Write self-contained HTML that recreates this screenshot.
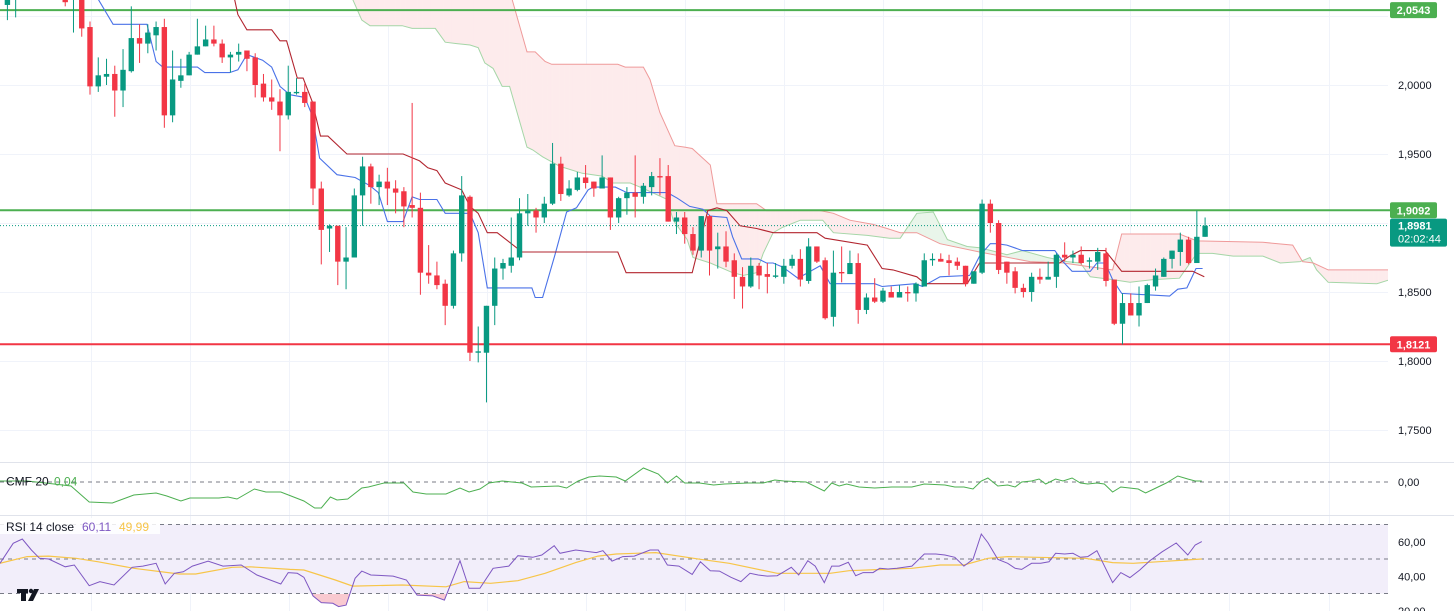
<!DOCTYPE html>
<html><head><meta charset="utf-8"><style>
html,body{margin:0;padding:0;background:#fff;}
svg{display:block;font-family:"Liberation Sans",sans-serif;}
</style></head><body>
<svg id="c" width="1454" height="611" viewBox="0 0 1454 611" xmlns="http://www.w3.org/2000/svg">
<defs>
<clipPath id="cpMain"><rect x="0" y="0" width="1388" height="462"/></clipPath>
<clipPath id="cpCmf"><rect x="0" y="463" width="1388" height="52"/></clipPath>
<clipPath id="cpRsi"><rect x="0" y="516" width="1388" height="95"/></clipPath>
<clipPath id="cpOS"><rect x="0" y="594" width="1388" height="17"/></clipPath>
</defs>
<rect x="0" y="0" width="1454" height="611" fill="#fff"/>
<g id="grid"></g>
<g id="cloud" clip-path="url(#cpMain)"></g>
<g id="levels"></g>
<g id="lines" clip-path="url(#cpMain)"></g>
<g id="candles" clip-path="url(#cpMain)"></g>
<line x1="0" y1="462.5" x2="1454" y2="462.5" stroke="#e0e3eb"/>
<line x1="0" y1="515.5" x2="1454" y2="515.5" stroke="#e0e3eb"/>
<g id="cmf"></g>
<g id="rsi"></g>
<g id="axis"></g>
<g>
<text x="6" y="485.5" font-size="12" fill="#131722">CMF 20</text>
<text x="54" y="485.5" font-size="12" fill="#4caf50">0,04</text>
</g>
<g>
<rect x="0" y="518" width="160" height="16" fill="#fff" fill-opacity="0.85"/>
<text x="6" y="531" font-size="12" fill="#131722">RSI 14 close</text>
<text x="82" y="531" font-size="12" fill="#7e57c2">60,11</text>
<text x="119" y="531" font-size="12" fill="#f7c548">49,99</text>
</g>
<g>
<rect x="17" y="589" width="11" height="4" fill="#131722"/>
<rect x="21" y="589" width="5" height="12" fill="#131722"/>
<circle cx="31" cy="591" r="2.2" fill="#131722"/>
<polygon points="34,589 39,589 33,601 28,601" fill="#131722"/>
</g>
</svg>
<script>
// ---------- data ----------
const opens=[2.058,2.062,2.091,2.080,2.094,2.083,2.069,2.069,2.062,2.080,
2.042,1.999,2.006,2.008,1.996,2.010,2.034,2.030,2.036,2.042,
1.978,2.003,2.007,2.022,2.028,2.033,2.030,2.020,2.022,2.025,
2.020,2.001,1.991,1.988,1.978,1.994,1.995,1.988,1.925,1.896,
1.898,1.872,1.875,1.920,1.941,1.926,1.930,1.925,1.923,1.913,
1.911,1.864,1.862,1.856,1.840,1.878,1.919,1.806,1.806,1.840,
1.867,1.869,1.875,1.907,1.909,1.904,1.914,1.943,1.920,1.924,
1.933,1.930,1.925,1.933,1.904,1.918,1.922,1.919,1.926,1.934,
1.934,1.901,1.904,1.892,1.880,1.905,1.881,1.883,1.873,1.861,
1.854,1.869,1.863,1.861,1.861,1.869,1.874,1.858,1.883,1.873,
1.832,1.8645,1.863,1.871,1.837,1.846,1.843,1.850,1.846,1.850,
1.849,1.854,1.873,1.874,1.873,1.872,1.869,1.856,1.864,1.914,
1.900,1.872,1.865,1.853,1.850,1.861,1.859,1.861,1.877,1.875,
1.877,1.872,1.872,1.878,1.859,1.827,1.842,1.833,1.842,1.854,
1.861,1.874,1.879,1.888,1.871,1.890];
const highs=[2.080,2.076,2.098,2.101,2.101,2.087,2.080,2.072,2.080,2.083,
2.046,2.020,2.019,2.014,2.026,2.057,2.044,2.044,2.046,2.048,
2.025,2.019,2.024,2.048,2.043,2.043,2.033,2.024,2.030,2.025,
2.023,2.008,2.004,1.997,2.014,2.005,2.001,1.988,1.930,1.899,
1.898,1.897,1.925,1.948,1.943,1.935,1.940,1.931,1.926,1.987,
1.922,1.884,1.872,1.859,1.880,1.934,1.920,1.825,1.840,1.875,
1.874,1.904,1.918,1.921,1.911,1.919,1.958,1.948,1.931,1.937,
1.942,1.930,1.949,1.933,1.919,1.926,1.949,1.929,1.937,1.947,
1.942,1.908,1.908,1.897,1.905,1.906,1.893,1.894,1.878,1.868,
1.875,1.871,1.871,1.871,1.874,1.877,1.881,1.889,1.883,1.875,
1.880,1.883,1.880,1.878,1.849,1.860,1.853,1.854,1.855,1.854,
1.857,1.878,1.878,1.878,1.877,1.875,1.869,1.865,1.917,1.917,
1.902,1.872,1.868,1.856,1.864,1.867,1.872,1.878,1.886,1.880,
1.883,1.875,1.882,1.882,1.859,1.849,1.849,1.854,1.856,1.867,
1.875,1.880,1.893,1.890,1.909,1.904];
const lows=[2.047,2.049,2.072,2.076,2.076,2.069,2.065,2.057,2.038,2.035,
1.993,1.995,2.000,1.977,1.984,2.009,2.016,2.023,2.025,1.969,
1.973,1.998,2.007,2.022,2.028,2.028,2.016,2.009,2.017,2.010,
1.991,1.988,1.982,1.952,1.975,1.993,1.984,1.913,1.870,1.879,
1.855,1.852,1.875,1.898,1.914,1.913,1.913,1.907,1.897,1.904,
1.848,1.856,1.852,1.826,1.838,1.872,1.800,1.799,1.770,1.826,
1.859,1.864,1.873,1.898,1.893,1.900,1.913,1.916,1.919,1.923,
1.925,1.919,1.925,1.895,1.900,1.906,1.904,1.914,1.920,1.920,
1.901,1.892,1.885,1.877,1.875,1.862,1.867,1.868,1.845,1.838,
1.853,1.852,1.849,1.860,1.856,1.867,1.854,1.856,1.871,1.830,
1.825,1.857,1.863,1.827,1.834,1.842,1.842,1.846,1.846,1.843,
1.843,1.854,1.869,1.872,1.862,1.866,1.854,1.856,1.863,1.893,
1.863,1.856,1.849,1.846,1.843,1.856,1.859,1.853,1.872,1.871,
1.870,1.867,1.866,1.854,1.826,1.812,1.833,1.825,1.842,1.851,
1.861,1.867,1.869,1.870,1.871,1.890];
const closes=[2.076,2.072,2.080,2.094,2.083,2.072,2.076,2.060,2.076,2.041,
1.999,2.007,2.008,1.996,2.011,2.034,2.030,2.038,2.042,1.978,
2.004,2.007,2.022,2.028,2.033,2.030,2.020,2.022,2.024,2.019,
2.000,1.991,1.988,1.978,1.995,1.995,1.987,1.925,1.895,1.898,
1.872,1.875,1.920,1.941,1.926,1.930,1.925,1.922,1.912,1.911,
1.864,1.862,1.855,1.840,1.878,1.920,1.806,1.807,1.840,1.867,
1.871,1.875,1.907,1.909,1.904,1.914,1.943,1.921,1.925,1.933,
1.929,1.925,1.933,1.904,1.918,1.922,1.919,1.927,1.934,1.933,
1.901,1.904,1.892,1.880,1.905,1.880,1.883,1.872,1.861,1.854,
1.869,1.862,1.861,1.862,1.869,1.874,1.859,1.883,1.872,1.831,
1.864,1.8635,1.871,1.837,1.846,1.843,1.851,1.846,1.850,1.849,
1.856,1.873,1.874,1.872,1.871,1.869,1.856,1.865,1.914,1.900,
1.866,1.864,1.853,1.850,1.861,1.859,1.861,1.877,1.875,1.877,
1.871,1.873,1.879,1.858,1.827,1.842,1.833,1.842,1.855,1.862,
1.874,1.880,1.888,1.871,1.890,1.898];
// [candle index, price]
const tenkan=[[11.0,2.062],[12.8,2.044],[16.9,2.044],[18.0,2.017],[18.8,2.013],[23.0,2.013],[23.9,2.009],[26.9,2.009],[27.9,2.011],[29.0,2.022],[30.9,2.018],[32.0,2.013],[33.0,1.999],[34.2,1.993],[36.0,1.991],[36.9,1.978],[37.8,1.947],[39.9,1.935],[42.1,1.933],[43.9,1.927],[44.9,1.922],[46.0,1.901],[47.9,1.901],[49.0,1.919],[49.9,1.917],[52.0,1.917],[53.0,1.907],[56.0,1.907],[57.0,1.893],[58.1,1.853],[63.5,1.853],[63.9,1.846],[64.8,1.846],[66.3,1.877],[67.7,1.908],[68.9,1.911],[70.3,1.924],[70.9,1.926],[73.6,1.926],[75.0,1.922],[79.9,1.922],[81.1,1.918],[82.6,1.912],[84.2,1.910],[85.1,1.905],[87.1,1.904],[87.8,1.890],[88.9,1.874],[90.9,1.874],[91.9,1.871],[92.7,1.871],[93.9,1.868],[95.7,1.860],[96.6,1.863],[98.4,1.869],[99.6,1.856],[105.0,1.856],[105.9,1.854],[109.9,1.856],[110.8,1.854],[112.9,1.861],[116.5,1.862],[117.7,1.876],[119.0,1.885],[119.8,1.885],[121.0,1.884],[122.9,1.880],[126.8,1.880],[127.8,1.872],[128.9,1.865],[131.1,1.865],[131.9,1.871],[132.9,1.871],[133.8,1.859],[134.9,1.849],[140.7,1.847],[141.7,1.852],[142.8,1.853],[143.9,1.867],[144.7,1.867]];
const kijun=[[27.5,2.062],[27.9,2.051],[29.0,2.040],[32.0,2.040],[33.0,2.032],[33.8,2.032],[35.1,2.005],[35.8,2.005],[36.9,1.988],[37.9,1.963],[38.8,1.963],[41.1,1.950],[47.9,1.950],[49.9,1.945],[50.9,1.940],[52.0,1.938],[53.0,1.929],[55.0,1.924],[56.0,1.912],[57.0,1.907],[58.1,1.893],[59.3,1.893],[60.8,1.886],[62.3,1.879],[73.9,1.879],[74.9,1.864],[82.9,1.864],[84.8,1.909],[85.9,1.911],[87.1,1.909],[88.7,1.898],[90.7,1.896],[92.7,1.893],[98.0,1.893],[99.0,1.889],[104.1,1.884],[105.9,1.867],[107.2,1.866],[110.1,1.861],[111.1,1.856],[116.2,1.856],[117.7,1.871],[127.4,1.871],[128.6,1.876],[129.9,1.880],[132.9,1.880],[134.9,1.865],[143.5,1.865],[144.9,1.861]];
const spanA=[[36.6,2.065],[41.8,2.062],[42.9,2.047],[43.9,2.043],[47.8,2.043],[49.0,2.041],[51.8,2.041],[53.0,2.031],[54.4,2.030],[56.0,2.029],[57.0,2.027],[57.8,2.016],[58.8,2.012],[59.9,1.999],[60.8,1.999],[62.9,1.955],[63.6,1.953],[64.8,1.948],[66.9,1.941],[69.6,1.936],[72.0,1.934],[73.3,1.929],[75.4,1.929],[77.0,1.925],[79.9,1.917],[80.6,1.902],[82.3,1.888],[83.0,1.875],[85.1,1.871],[87.8,1.864],[89.1,1.862],[90.7,1.864],[91.5,1.878],[92.7,1.893],[93.9,1.897],[96.0,1.902],[98.7,1.902],[100.0,1.893],[104.1,1.891],[106.8,1.889],[108.1,1.889],[110.1,1.907],[112.1,1.908],[113.8,1.888],[116.2,1.883],[117.7,1.882],[119.8,1.879],[121.0,1.877],[122.9,1.880],[125.9,1.875],[128.3,1.872],[129.9,1.871],[131.1,1.861],[133.8,1.859],[135.9,1.857],[138.7,1.859],[141.9,1.860],[144.0,1.878],[145.9,1.878],[148.4,1.876],[152.0,1.876],[154.1,1.871],[156.5,1.872],[157.7,1.875],[158.5,1.866],[159.9,1.857],[165.8,1.856],[167.4,1.859]];
const spanB=[[36.6,2.105],[60.2,2.069],[61.1,2.062],[62.9,2.024],[63.9,2.024],[65.1,2.017],[65.9,2.015],[73.9,2.015],[74.8,2.013],[77.0,2.013],[77.8,2.004],[79.0,1.980],[80.8,1.956],[82.0,1.955],[82.9,1.954],[85.1,1.942],[85.9,1.914],[90.7,1.914],[91.9,1.909],[98.4,1.909],[100.0,1.907],[102.0,1.902],[104.8,1.899],[106.5,1.896],[108.1,1.893],[110.1,1.893],[112.9,1.885],[117.7,1.879],[123.8,1.872],[127.8,1.871],[133.8,1.866],[134.9,1.892],[141.9,1.892],[144.0,1.887],[152.0,1.886],[155.6,1.884],[156.8,1.872],[158.1,1.871],[159.9,1.866],[167.4,1.866]];
const cmf=[[-0.9,0.02],[2.4,0.02],[4.6,-0.02],[7.7,-0.08],[9.9,-0.40],[12.7,-0.42],[15.3,-0.26],[18.0,-0.22],[19.3,-0.28],[21.0,-0.38],[22.1,-0.32],[25.6,-0.32],[26.7,-0.30],[27.8,-0.34],[29.9,-0.14],[31.3,-0.20],[33.1,-0.20],[35.9,-0.38],[37.2,-0.52],[38.0,-0.52],[39.1,-0.30],[39.9,-0.36],[41.2,-0.34],[42.9,-0.12],[43.7,-0.10],[45.6,-0.02],[48.0,-0.02],[49.1,-0.20],[50.7,-0.24],[53.1,-0.24],[54.8,-0.12],[55.9,-0.20],[57.2,-0.14],[58.3,-0.02],[59.9,0.02],[62.3,-0.02],[63.4,-0.10],[66.7,-0.08],[67.7,-0.12],[69.1,0.02],[70.4,0.10],[71.7,0.12],[73.7,0.10],[74.8,0.02],[77.0,0.28],[78.8,0.16],[79.9,-0.02],[81.0,0.12],[82.0,-0.02],[83.8,-0.02],[85.5,-0.06],[86.8,-0.04],[89.7,-0.02],[91.5,-0.02],[92.9,0.04],[94.0,0.02],[96.7,0.00],[98.9,-0.18],[99.8,-0.02],[100.7,-0.08],[101.6,-0.04],[103.1,-0.10],[105.0,-0.12],[107.1,-0.10],[109.5,-0.10],[111.0,-0.04],[113.5,-0.06],[114.7,-0.10],[115.8,-0.10],[116.9,-0.14],[117.9,0.02],[118.7,0.08],[119.9,-0.08],[121.1,-0.06],[122.0,-0.10],[122.8,0.00],[124.0,0.02],[124.9,0.06],[125.7,-0.04],[126.9,0.06],[127.8,0.02],[128.9,0.08],[129.9,-0.02],[130.8,-0.04],[131.9,-0.02],[132.8,-0.04],[133.8,-0.20],[134.8,-0.10],[136.9,-0.14],[137.8,-0.22],[138.8,-0.14],[140.3,-0.02],[141.7,0.12],[142.9,0.06],[143.8,0.02],[144.6,0.02]];
const rsiIdx=[-0.9,0.7,1.8,2.9,3.9,5.0,7.0,8.1,9.9,11.2,12.9,15.1,16.4,18.0,19.1,20.2,21.3,22.4,24.3,26.1,28.3,30.2,33.1,34.0,35.1,35.9,37.0,38.0,39.4,40.1,41.0,42.1,42.9,44.0,46.7,48.3,49.6,51.5,52.9,54.8,55.9,57.2,58.8,60.7,61.8,63.6,64.7,66.2,66.9,68.8,71.3,72.1,73.2,74.5,75.9,77.8,78.8,79.9,81.3,82.9,83.9,
85.1,86.2,87.6,88.8,89.9,90.9,92.0,93.2,94.0,94.9,95.8,96.9,97.8,98.9,99.8,100.7,101.8,102.7,103.6,104.8,105.6,106.6,107.7,109.5,111.0,112.4,113.5,114.7,115.8,116.9,117.9,118.7,119.9,121.1,122.0,122.8,124.0,125.1,126.1,126.9,128.0,129.0,129.9,130.8,131.9,133.8,134.8,135.9,137.1,138.3,139.8,141.5,142.9,143.8,144.6];
const rsiVal=[47.5,59.1,61.6,55.2,50.4,50.0,45.5,46.5,34.5,36.9,34.9,45.2,45.9,47.5,35.5,41.7,42.6,45.9,48.8,45.9,46.5,40.7,35.5,42.1,41.7,39.4,28.6,24.7,24.3,22.4,23.3,38.8,43.0,40.7,40.1,37.8,29.1,28.6,26.2,49.0,33.0,33.0,44.6,45.9,51.9,51.0,52.3,57.7,53.3,55.2,53.7,54.8,48.8,51.4,51.7,55.2,55.2,46.5,45.9,41.1,48.4,
43.2,43.0,39.4,36.9,41.7,40.7,40.1,40.3,42.6,45.2,40.7,49.0,45.9,36.3,45.9,45.9,48.1,40.3,42.1,42.1,44.6,44.2,44.6,45.9,52.9,52.9,52.3,51.0,45.9,49.8,64.5,59.5,49.8,47.5,44.6,44.0,47.5,47.5,48.4,53.3,52.9,53.3,51.0,51.4,54.8,36.3,42.1,39.2,43.6,49.0,54.2,59.3,52.3,58.1,60.11];
const rsiMaIdx=[-0.9,2.4,5.0,8.3,11.0,15.3,20.8,22.8,27.2,29.4,34.2,35.9,39.7,41.8,47.8,53.1,55.3,58.5,61.8,65.1,68.8,71.5,73.7,78.5,83.9,87.4,93.2,99.6,101.9,106.0,109.5,112.9,115.8,118.7,121.1,124.6,130.5,133.8,136.3,139.2,144.6];
const rsiMaVal=[47.5,51.4,51.7,50.4,48.4,44.6,41.3,41.3,45.2,45.5,44.0,43.6,37.8,34.3,34.9,33.9,36.9,35.9,37.4,41.7,47.9,51.7,52.9,53.7,49.8,47.5,41.7,41.7,43.2,44.0,44.6,46.5,46.5,50.4,51.4,51.0,50.4,47.9,47.5,48.4,49.99];
const levelPrices=[2.0543,1.9092,1.8121];
const levelLabels=["2,0543","1,9092","1,8121"];
const priceTicks=[2.0,1.95,1.85,1.80,1.75];
const priceTickLabels=["2,0000","1,9500","1,8500","1,8000","1,7500"];
const gridPrices=[2.05,2.0,1.95,1.90,1.85,1.80,1.75];
const gridXs=[91,190,289,388,487,586,685,784,883,982,1130,1229,1329];
const lastPrice=1.8981;
const lastLabel="1,8981";
const countdown="02:02:44";
const rsiTicks=[60,40,20];
const rsiTickLabels=["60,00","40,00","20,00"];

// ---------- scales ----------
const NS="http://www.w3.org/2000/svg";
const xOf=i=>7.4+i*8.26;
const yP=p=>85+(2.0-p)*1380;
const yC=v=>482-v*50;
const yR=v=>559-(v-50)*1.725;
function mk(tag,attrs,parent){const e=document.createElementNS(NS,tag);for(const k in attrs)e.setAttribute(k,attrs[k]);parent.appendChild(e);return e;}
const G=id=>document.getElementById(id);

// grid
const grid=G('grid');
gridXs.forEach(x=>{const l=mk('line',{x1:x+0.5,y1:0,x2:x+0.5,y2:611,stroke:'#f0f3fa'},grid);

});
gridPrices.forEach(p=>{const l=mk('line',{x1:0,y1:Math.round(yP(p))+0.5,x2:1388,y2:Math.round(yP(p))+0.5,stroke:'#f0f3fa'},grid);

});

// cloud
function interp(arr,t){if(t<=arr[0][0])return arr[0][1];for(let k=1;k<arr.length;k++){if(t<=arr[k][0]){const a=arr[k-1],b=arr[k];return a[1]+(b[1]-a[1])*(t-a[0])/(b[0]-a[0]);}}return arr[arr.length-1][1];}
const cloud=G('cloud');
const t0=Math.max(spanA[0][0],spanB[0][0]),t1=Math.min(spanA[spanA.length-1][0],spanB[spanB.length-1][0]);
for(let t=t0;t<t1;t+=0.2){const t2=Math.min(t+0.2,t1);
const a1=interp(spanA,t),b1=interp(spanB,t),a2=interp(spanA,t2),b2=interp(spanB,t2);
const bear=(b1+b2)>(a1+a2);
const q=mk('polygon',{points:`${xOf(t)},${yP(a1)} ${xOf(t2)+0.3},${yP(a2)} ${xOf(t2)+0.3},${yP(b2)} ${xOf(t)},${yP(b1)}`,fill:bear?'#fdebec':'#e9f5ea'},cloud);

}
function pathOf(arr,fx,fy){return arr.map((d,k)=>(k?'L':'M')+fx(d[0]).toFixed(1)+','+fy(d[1]).toFixed(1)).join('');}
const sa=mk('path',{d:pathOf(spanA,xOf,yP),fill:'none',stroke:'#a5d6a7','stroke-width':1},cloud);


const sb=mk('path',{d:pathOf(spanB,xOf,yP),fill:'none',stroke:'#ef9a9a','stroke-width':1},cloud);



// levels
const lv=G('levels');
const lvColors=['#4caf50','#4caf50','#f23645'];
levelPrices.forEach((p,k)=>{const y=yP(p);
const l=mk('line',{x1:0,y1:y,x2:1390,y2:y,stroke:lvColors[k],'stroke-width':2},lv);

});
const cl=mk('line',{x1:0,y1:yP(lastPrice),x2:1388,y2:yP(lastPrice),stroke:'#089981','stroke-width':1,'stroke-dasharray':'1 2'},lv);



// ichimoku lines
const ln=G('lines');
const tk=mk('path',{d:pathOf(tenkan,xOf,yP),fill:'none',stroke:'#4a72e8','stroke-width':1.1},ln);


const kj=mk('path',{d:pathOf(kijun,xOf,yP),fill:'none',stroke:'#b2252f','stroke-width':1.1},ln);



// candles
const cg=G('candles');
opens.forEach((o,i)=>{const c=closes[i],h=highs[i],l=lows[i];const up=c>=o;const col=up?'#089981':'#f23645';const x=xOf(i);
const g=mk('g',{},cg);


mk('line',{x1:x,y1:yP(h),x2:x,y2:yP(l),stroke:col,'stroke-width':1},g);
const top=yP(Math.max(o,c)),bot=yP(Math.min(o,c));
mk('rect',{x:x-2.7,y:top,width:5.4,height:Math.max(1,bot-top),fill:col},g);});

// CMF
const cm=G('cmf');
const z=mk('line',{x1:0,y1:yC(0),x2:1388,y2:yC(0),stroke:'#787b86','stroke-dasharray':'4 4','stroke-width':1},cm);


const cp=mk('path',{d:pathOf(cmf,xOf,yC),fill:'none',stroke:'#4caf50','stroke-width':1,'clip-path':'url(#cpCmf)'},cm);


const c0=mk('text',{x:1398,y:yC(0)+4,'font-size':11,fill:'#131722'},cm);c0.textContent='0,00';



// RSI
const rs=G('rsi');
const band=mk('rect',{x:0,y:yR(70),width:1388,height:yR(30)-yR(70),fill:'#f2eefa'},rs);


[70,50,30].forEach(v=>{const l=mk('line',{x1:0,y1:yR(v),x2:1388,y2:yR(v),stroke:'#787b86','stroke-dasharray':'4 4','stroke-width':1},rs);

});
const rpts=rsiIdx.map((t,k)=>[t,rsiVal[k]]);
const os=mk('path',{d:pathOf(rpts,xOf,yR)+`L${xOf(rsiIdx[rsiIdx.length-1])},${yR(30)}L${xOf(rsiIdx[0])},${yR(30)}Z`,fill:'#f9c9d0','clip-path':'url(#cpOS)'},rs);


const mpts=rsiMaIdx.map((t,k)=>[t,rsiMaVal[k]]);
const rm=mk('path',{d:pathOf(mpts,xOf,yR),fill:'none',stroke:'#f7c548','stroke-width':1.2,'clip-path':'url(#cpRsi)'},rs);


const rl=mk('path',{d:pathOf(rpts,xOf,yR),fill:'none',stroke:'#7e57c2','stroke-width':1,'clip-path':'url(#cpRsi)'},rs);


rsiTicks.forEach((v,k)=>{const t=mk('text',{x:1398,y:yR(v)+4,'font-size':11,fill:'#131722'},rs);t.textContent=rsiTickLabels[k];

});

// price axis
const ax=G('axis');
priceTicks.forEach((p,k)=>{const t=mk('text',{x:1398,y:yP(p)+4,'font-size':11,fill:'#131722'},ax);t.textContent=priceTickLabels[k];

});
levelPrices.forEach((p,k)=>{const y=yP(p);
const r=mk('rect',{x:1390,y:y-8,width:47,height:16,rx:2,fill:lvColors[k]},ax);


const t=mk('text',{x:1413.5,y:y+4,'font-size':11,'font-weight':'bold',fill:'#fff','text-anchor':'middle'},ax);t.textContent=levelLabels[k];

});
const yl=yP(lastPrice);
const lr=mk('rect',{x:1390,y:yl-7,width:57,height:28,rx:2,fill:'#089981'},ax);


const lt=mk('text',{x:1398,y:yl+4,'font-size':11,'font-weight':'bold',fill:'#fff'},ax);lt.textContent=lastLabel;


const ct=mk('text',{x:1398,y:yl+17,'font-size':11,fill:'#fff'},ax);ct.textContent=countdown;


</script>
</body></html>
